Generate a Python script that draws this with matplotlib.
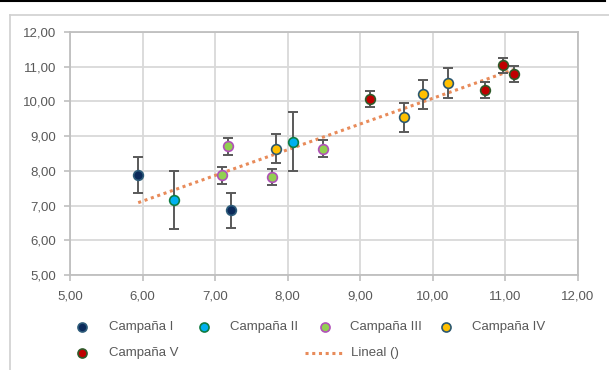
import numpy as np
import matplotlib
matplotlib.use("Agg")
import matplotlib.pyplot as plt
from matplotlib.lines import Line2D

plt.rcParams['font.family'] = ['Liberation Sans', 'DejaVu Sans']

# ---- data ----
series_names = ["Campaña I", "Campaña II", "Campaña III", "Campaña IV", "Campaña V"]
x_c1 = [5.94, 7.22]
y_c1 = [7.87, 6.86]
e_c1 = [0.52, 0.50]
x_c2 = [6.43, 8.07]
y_c2 = [7.16, 8.84]
e_c2 = [0.84, 0.85]
x_c3 = [7.18, 7.10, 7.79, 8.49]
y_c3 = [8.71, 7.87, 7.82, 8.64]
e_c3 = [0.25, 0.25, 0.23, 0.24]
x_c4 = [7.84, 9.60, 9.87, 10.21]
y_c4 = [8.64, 9.54, 10.20, 10.53]
e_c4 = [0.42, 0.42, 0.42, 0.42]
x_c5 = [9.14, 10.72, 10.97, 11.12]
y_c5 = [10.08, 10.34, 11.04, 10.79]
e_c5 = [0.23, 0.23, 0.22, 0.23]
trend_label = "Lineal ()"
x_ticks = [5, 6, 7, 8, 9, 10, 11, 12]
y_ticks = [5, 6, 7, 8, 9, 10, 11, 12]

faces = ["#0B2A5B", "#00B0F0", "#92D050", "#FFC000", "#C00000"]
edges = ["#2E5C7A", "#107C41", "#B050B8", "#2A5770", "#2F5A2A"]
xs = [x_c1, x_c2, x_c3, x_c4, x_c5]
ys = [y_c1, y_c2, y_c3, y_c4, y_c5]
es = [e_c1, e_c2, e_c3, e_c4, e_c5]

W, H = 609, 370
fig = plt.figure(figsize=(W / 100, H / 100), dpi=100)
ax = fig.add_axes([70 / W, 1 - 275 / H, (578 - 70) / W, (275 - 32) / H])

txt_col = "#595959"
grid_col = "#D9D9D9"

for x, y, e, fc, ec in zip(xs, ys, es, faces, edges):
    ax.errorbar(x, y, yerr=e, fmt='none', ecolor="#595959", elinewidth=1.4,
                capsize=3.5, capthick=1.4, zorder=3)
    ax.plot(x, y, 'o', ms=7, mfc=fc, mec=ec, mew=1.2, zorder=4, linestyle='none')

allx = np.concatenate([np.array(v) for v in xs])
ally = np.concatenate([np.array(v) for v in ys])
m, b = np.polyfit(allx, ally, 1)
tx = np.array([allx.min(), allx.max()])
ax.plot(tx, m * tx + b, linestyle=(0, (1, 1.2)), color="#E88B5A", lw=2.2, zorder=2)

ax.set_xlim(5, 12)
ax.set_ylim(5, 12)
ax.set_xticks(x_ticks)
ax.set_yticks(y_ticks)
ax.set_xticklabels([f"{v:.2f}".replace('.', ',') for v in x_ticks])
ax.set_yticklabels([f"{v:.2f}".replace('.', ',') for v in y_ticks])
ax.grid(True, color=grid_col, lw=1.3, zorder=0)
ax.set_axisbelow(True)
for s in ax.spines.values():
    s.set_color("#BFBFBF")
    s.set_linewidth(1.3)
ax.tick_params(axis='both', colors="#BFBFBF", labelcolor=txt_col, labelsize=9.5,
               length=4, width=1.2, direction='out')
ax.tick_params(axis='y', pad=6)
ax.tick_params(axis='x', pad=7)

# frame and top line
fig.add_artist(Line2D([0, 605 / W], [1 - 1 / H, 1 - 1 / H], color="black", lw=1.5))
fig.add_artist(Line2D([10 / W, 10 / W], [0, 1 - 15 / H], color="#D0D0D0", lw=1.2))
fig.add_artist(Line2D([10 / W, 1], [1 - 15 / H, 1 - 15 / H], color="#D0D0D0", lw=1.2))

# legend (manual)
rows = [327, 353]
mx = [82, 204, 325, 446]
tx_ = [109, 230, 350, 472]
for i in range(5):
    r = rows[0] if i < 4 else rows[1]
    c = i if i < 4 else 0
    fig.add_artist(Line2D([mx[c] / W], [1 - r / H], marker='o', ms=6.5,
                          mfc=faces[i], mec=edges[i], mew=1.2, linestyle='none'))
    fig.text(tx_[c] / W, 1 - r / H, series_names[i], color=txt_col, fontsize=9.5,
             va='center', ha='left')
fig.add_artist(Line2D([305 / W, 345 / W], [1 - rows[1] / H, 1 - rows[1] / H],
                      linestyle=(0, (1, 1.2)), color="#E88B5A", lw=2.2))
fig.text(351 / W, 1 - rows[1] / H, trend_label, color=txt_col, fontsize=9.5,
         va='center', ha='left')

fig.savefig("out.png", dpi=100)
